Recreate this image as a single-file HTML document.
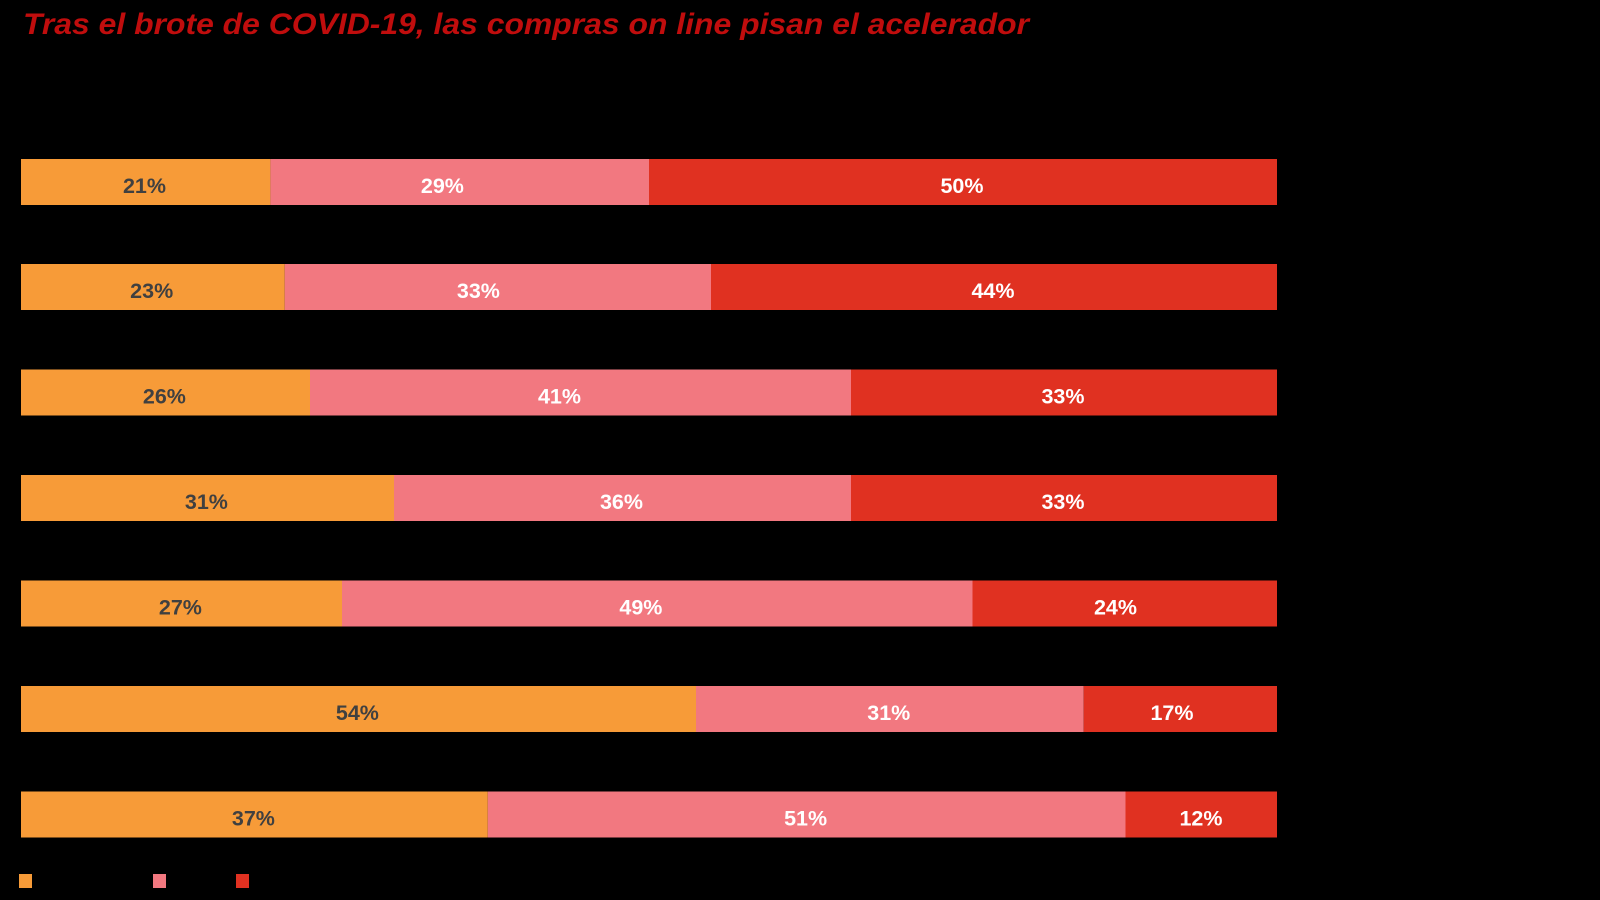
<!DOCTYPE html>
<html><head><meta charset="utf-8"><style>
html,body{margin:0;padding:0;background:#000;width:1600px;height:900px;overflow:hidden}
</style></head><body>
<svg width="1600" height="900" xmlns="http://www.w3.org/2000/svg" font-family="Liberation Sans, sans-serif">
<rect width="1600" height="900" fill="#000"/>
<text x="23" y="34" font-size="30" font-weight="bold" font-style="italic" fill="#c00d0d" textLength="1006" lengthAdjust="spacingAndGlyphs">Tras el brote de COVID-19, las compras on line pisan el acelerador</text>
<g font-size="21.5" font-weight="bold" text-anchor="middle">
<rect x="21" y="159" width="249.4" height="46" fill="#f79b38"/><rect x="270.4" y="159" width="378.6" height="46" fill="#f27880"/><rect x="649" y="159" width="628" height="46" fill="#e03121"/>
<text x="144.5" y="193" fill="#404040">21%</text><text x="442.4" y="193" fill="#fff">29%</text><text x="962" y="193" fill="#fff">50%</text>

<rect x="21" y="264" width="263.7" height="46" fill="#f79b38"/><rect x="284.7" y="264" width="426.3" height="46" fill="#f27880"/><rect x="711" y="264" width="566" height="46" fill="#e03121"/>
<text x="151.7" y="298" fill="#404040">23%</text><text x="478.4" y="298" fill="#fff">33%</text><text x="993" y="298" fill="#fff">44%</text>

<rect x="21" y="369.5" width="289" height="46" fill="#f79b38"/><rect x="310" y="369.5" width="541" height="46" fill="#f27880"/><rect x="851" y="369.5" width="426" height="46" fill="#e03121"/>
<text x="164.4" y="403.5" fill="#404040">26%</text><text x="559.5" y="403.5" fill="#fff">41%</text><text x="1063" y="403.5" fill="#fff">33%</text>

<rect x="21" y="475" width="373" height="46" fill="#f79b38"/><rect x="394" y="475" width="457" height="46" fill="#f27880"/><rect x="851" y="475" width="426" height="46" fill="#e03121"/>
<text x="206.4" y="509" fill="#404040">31%</text><text x="621.5" y="509" fill="#fff">36%</text><text x="1063" y="509" fill="#fff">33%</text>

<rect x="21" y="580.5" width="321" height="46" fill="#f79b38"/><rect x="342" y="580.5" width="630.5" height="46" fill="#f27880"/><rect x="972.5" y="580.5" width="304.5" height="46" fill="#e03121"/>
<text x="180.4" y="614.5" fill="#404040">27%</text><text x="640.9" y="614.5" fill="#fff">49%</text><text x="1115.5" y="614.5" fill="#fff">24%</text>

<rect x="21" y="686" width="675" height="46" fill="#f79b38"/><rect x="696" y="686" width="387.7" height="46" fill="#f27880"/><rect x="1083.7" y="686" width="193.3" height="46" fill="#e03121"/>
<text x="357.4" y="720" fill="#404040">54%</text><text x="888.8" y="720" fill="#fff">31%</text><text x="1172" y="720" fill="#fff">17%</text>

<rect x="21" y="791.5" width="466.8" height="46" fill="#f79b38"/><rect x="487.8" y="791.5" width="637.7" height="46" fill="#f27880"/><rect x="1125.5" y="791.5" width="151.5" height="46" fill="#e03121"/>
<text x="253.4" y="825.5" fill="#404040">37%</text><text x="805.6" y="825.5" fill="#fff">51%</text><text x="1201" y="825.5" fill="#fff">12%</text>
</g>
<rect x="19" y="874" width="13" height="14" fill="#f79b38"/>
<rect x="153" y="874" width="13" height="14" fill="#f27880"/>
<rect x="236" y="874" width="13" height="14" fill="#e03121"/>
</svg>
</body></html>
